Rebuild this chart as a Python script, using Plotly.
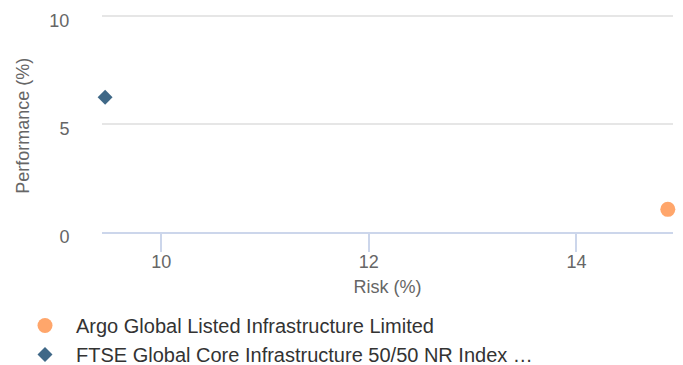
import plotly.graph_objects as go

series_names = ["Argo Global Listed Infrastructure Limited",
                "FTSE Global Core Infrastructure 50/50 NR Index …"]
risk = [14.88, 9.46]
performance = [1.05, 6.24]
symbols = ["circle", "diamond"]
colors = ["#FFA66B", "#3F6887"]
sizes = [15, 11.5]
x_ticks = [10, 12, 14]
y_ticks = [0, 5, 10]
x_title = "Risk (%)"
y_title = "Performance (%)"

fig = go.Figure()
for i in range(len(series_names)):
    fig.add_trace(go.Scatter(
        x=[risk[i]], y=[performance[i]], mode="markers", name=series_names[i],
        legendgroup=f"g{i}", cliponaxis=False,
        marker=dict(symbol=symbols[i], color=colors[i], size=sizes[i], line=dict(width=0)),
    ))

font_family = "Liberation Sans, Arial, sans-serif"
L, R, T, B = 102, 10, 15, 133
plot_w = 683 - L - R
fig.update_layout(
    width=683, height=365,
    margin=dict(l=L, r=R, t=T, b=B, autoexpand=False),
    paper_bgcolor="white", plot_bgcolor="white",
    font=dict(family=font_family, color="#666666", size=18),
    xaxis=dict(range=[9.43, 14.93], tickvals=x_ticks, showgrid=False, zeroline=False,
               showline=True, linecolor="#ccd6eb", linewidth=2,
               ticks="outside", ticklen=18, tickwidth=1.5, tickcolor="#ccd6eb",
               ticklabelstandoff=-6,
               tickfont=dict(size=18, color="#666666"),
               title=dict(text=x_title, font=dict(size=18, color="#666666"), standoff=10)),
    yaxis=dict(range=[0, 10.05], tickvals=y_ticks, showgrid=True, gridcolor="#e6e6e6", gridwidth=1.5,
               zeroline=False, showline=False, ticks="outside", ticklen=28, tickcolor="rgba(0,0,0,0)",
               ticklabelshift=5,
               tickfont=dict(size=18, color="#666666")),
    annotations=[dict(text=y_title, xref="paper", yref="paper", x=(23 - L) / plot_w, y=0.49,
                      xanchor="center", yanchor="middle", textangle=-90, showarrow=False,
                      font=dict(size=18, color="#666666"))],
    legend=dict(xref="container", yref="container", x=14/683, y=1 - 306/365,
                xanchor="left", yanchor="top", itemwidth=52, tracegroupgap=0,
                font=dict(size=20, color="#333333", family=font_family),
                bgcolor="rgba(0,0,0,0)"),
    showlegend=True,
)
fig.write_html("out.html")
